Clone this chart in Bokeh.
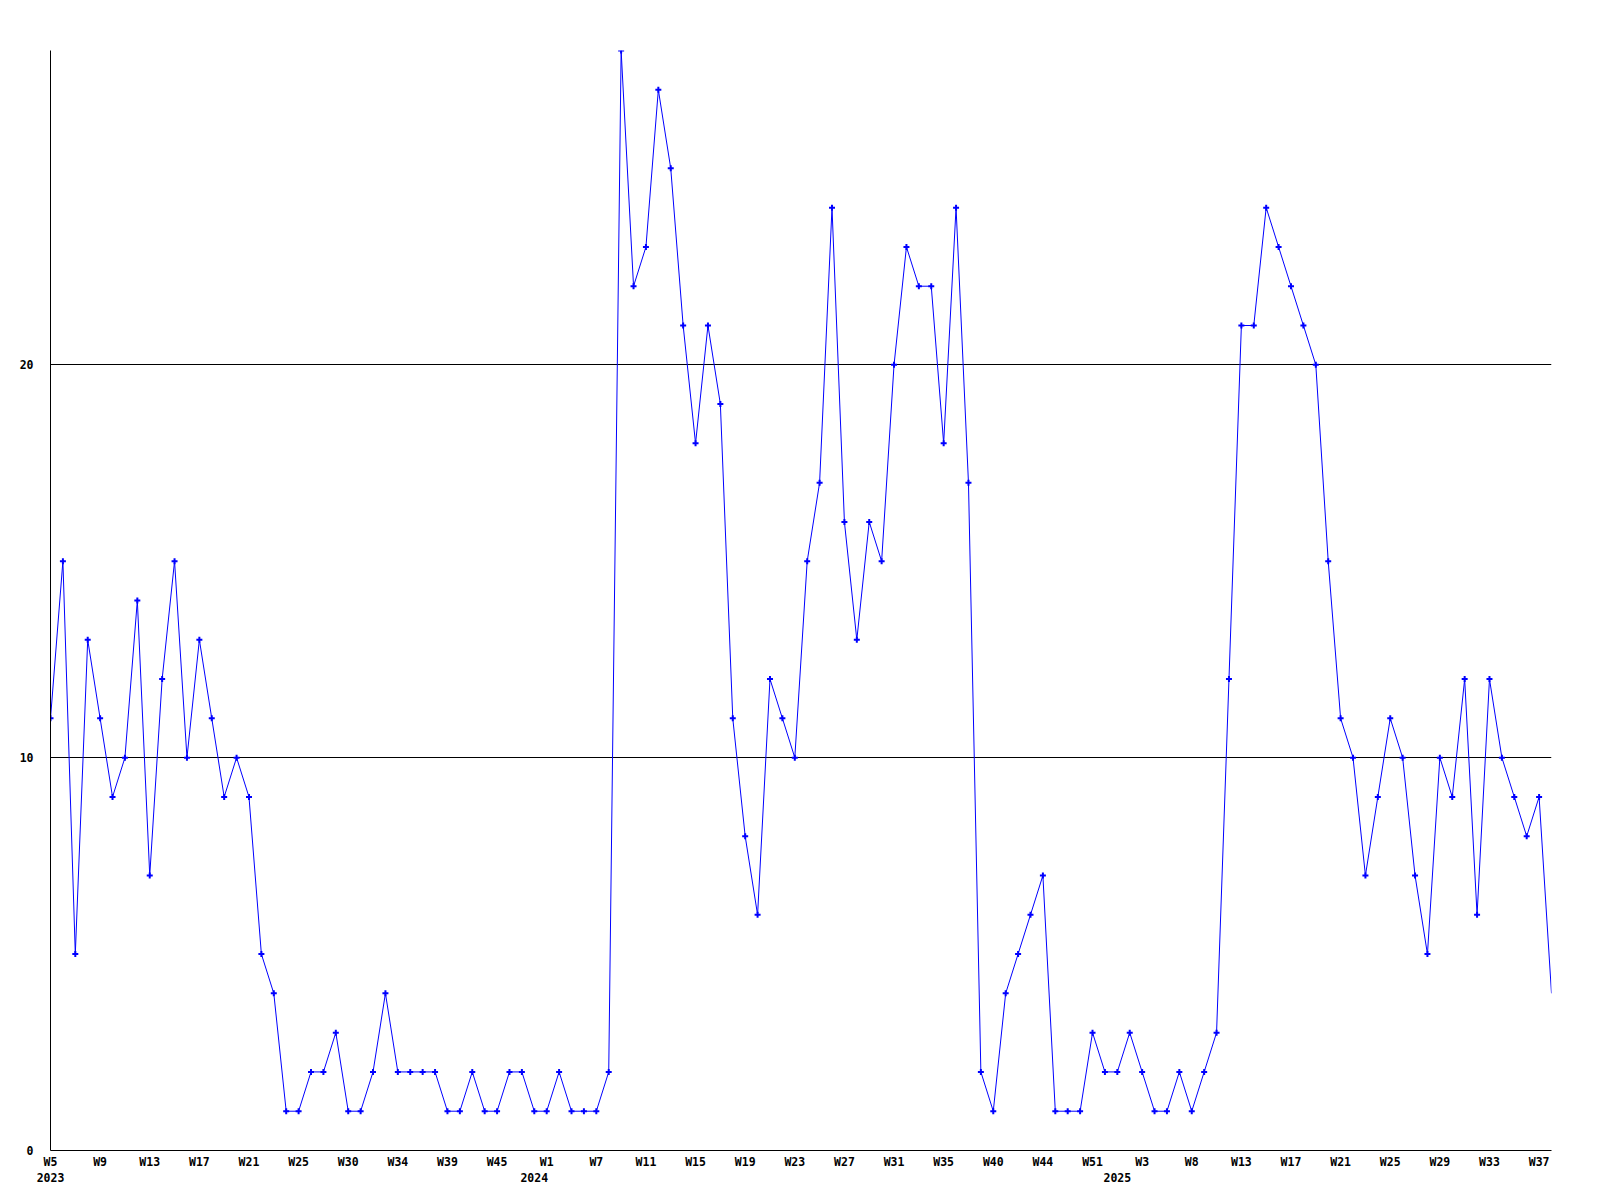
from bokeh.plotting import figure
from bokeh.models import Range1d, FixedTicker, LinearAxis
from bokeh.embed import file_html
from bokeh.resources import INLINE

# weekly counts, 2023 W5 .. 2025 W38 (one point per reported week)
values = [11, 15, 5, 13, 11, 9, 10, 14, 7, 12,
          15, 10, 13, 11, 9, 10, 9, 5, 4, 1,
          1, 2, 2, 3, 1, 1, 2, 4, 2, 2,
          2, 2, 1, 1, 2, 1, 1, 2, 2, 1,
          1, 2, 1, 1, 1, 2, 28, 22, 23, 27,
          25, 21, 18, 21, 19, 11, 8, 6, 12, 11,
          10, 15, 17, 24, 16, 13, 16, 15, 20, 23,
          22, 22, 18, 24, 17, 2, 1, 4, 5, 6,
          7, 1, 1, 1, 3, 2, 2, 3, 2, 1,
          1, 2, 1, 2, 3, 12, 21, 21, 24, 23,
          22, 21, 20, 15, 11, 10, 7, 9, 11, 10,
          7, 5, 10, 9, 12, 6, 12, 10, 9, 8,
          9, 4]

# week labels shown on every 4th point
tick_labels = ["W5", "W9", "W13", "W17", "W21", "W25", "W30", "W34", "W39", "W45",
               "W1", "W7", "W11", "W15", "W19", "W23", "W27", "W31", "W35", "W40",
               "W44", "W51", "W3", "W8", "W13", "W17", "W21", "W25", "W29", "W33",
               "W37"]
tick_step = 4

year_labels = ["2023", "2024", "2025"]
year_index = [0, 39, 86]

y_ticks = [0, 10, 20]
y_max = 28

FONT = "DejaVu Sans Mono"
FSIZE = "11.5px"
BLUE = "#0000ff"

x = list(range(len(values)))

p = figure(width=1580, height=1198, output_backend="svg", toolbar_location=None,
           x_range=Range1d(0, len(values) - 1), y_range=Range1d(0, y_max),
           min_border_left=50, min_border_top=50, min_border_right=29,
           min_border_bottom=48)
p.background_fill_color = "white"
p.border_fill_color = "white"
p.outline_line_color = None

p.line(x, values, line_color=BLUE, line_width=1)
p.scatter(x[:-1], values[:-1], marker="cross", size=6, line_color=BLUE, line_width=2)

# x axis: week labels
xa = p.xaxis[0]
tick_pos = [i * tick_step for i in range(len(tick_labels))]
xa.ticker = FixedTicker(ticks=tick_pos)
xa.major_label_overrides = {t: lab for t, lab in zip(tick_pos, tick_labels)}
xa.axis_line_color = "black"
xa.axis_line_width = 1
xa.major_tick_out = 0
xa.major_tick_in = 0
xa.minor_tick_out = 0
xa.minor_tick_in = 0
xa.major_label_standoff = 4
xa.major_label_text_font = FONT
xa.major_label_text_font_style = "bold"
xa.major_label_text_font_size = FSIZE
xa.major_label_text_color = "black"

# second row: year labels
ya2 = LinearAxis(ticker=FixedTicker(ticks=year_index),
                 major_label_overrides={t: lab for t, lab in zip(year_index, year_labels)},
                 axis_line_color=None, major_tick_out=0, major_tick_in=0,
                 minor_tick_out=0, minor_tick_in=0, major_label_standoff=1,
                 major_label_text_font=FONT, major_label_text_font_style="bold",
                 major_label_text_font_size=FSIZE, major_label_text_color="black")
p.add_layout(ya2, "below")

# y axis
ya = p.yaxis[0]
ya.ticker = FixedTicker(ticks=y_ticks)
ya.axis_line_color = "black"
ya.axis_line_width = 1
ya.major_tick_out = 0
ya.major_tick_in = 0
ya.minor_tick_out = 0
ya.minor_tick_in = 0
ya.major_label_standoff = 17
ya.major_label_text_font = FONT
ya.major_label_text_font_style = "bold"
ya.major_label_text_font_size = FSIZE
ya.major_label_text_color = "black"

p.xgrid.grid_line_color = None
p.ygrid.grid_line_color = "black"
p.ygrid.grid_line_width = 1
p.ygrid.grid_line_alpha = 1.0

open("out.html", "w").write(file_html(p, INLINE))
